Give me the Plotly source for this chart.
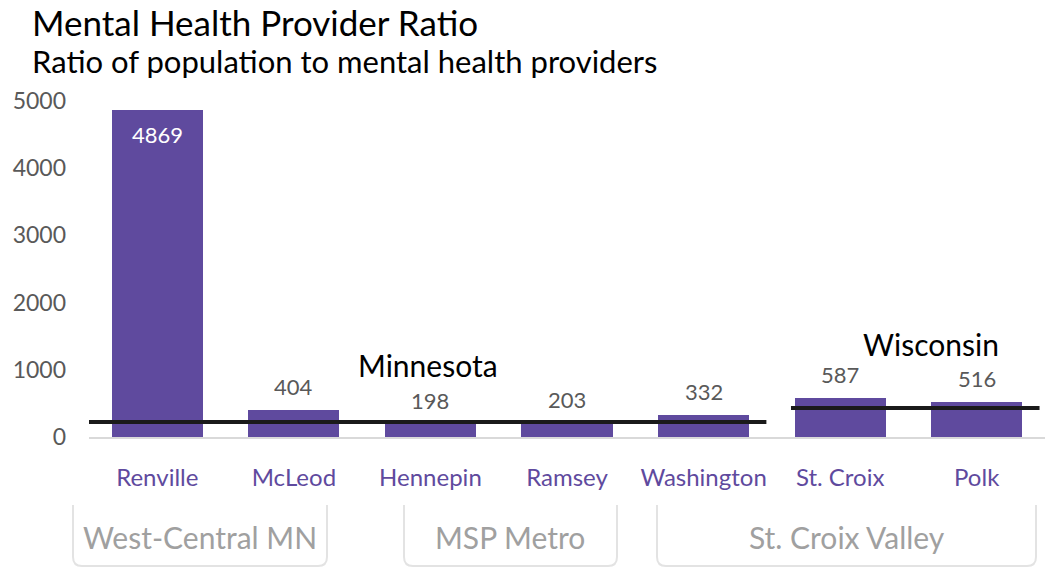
import plotly.graph_objects as go

# Data
counties = ["Renville", "McLeod", "Hennepin", "Ramsey", "Washington", "St. Croix", "Polk"]
ratios = [4869, 404, 198, 203, 332, 587, 516]
regions = ["West-Central MN", "MSP Metro", "St. Croix Valley"]
state_names = ["Minnesota", "Wisconsin"]
state_ratios = [223, 432]
y_ticks = [0, 1000, 2000, 3000, 4000, 5000]

PURPLE = "#5F4A9E"
GRAY_TXT = "#595959"

# Plot area geometry (pixels)
W, H = 1050, 569
L, R, T, B = 89, 5, 101, 132
PW, PH = W - L - R, H - T - B


def px_x(px):
    return (px - L) / PW


def px_y(py):
    return (H - B - py) / PH


fig = go.Figure()
xs = list(range(len(counties)))
fig.add_trace(go.Bar(
    x=xs, y=ratios, width=0.667,
    marker=dict(color=PURPLE, line=dict(width=0)),
    hoverinfo="skip", showlegend=False,
))

annotations = []
# value labels
for i, v in enumerate(ratios):
    if v > 3000:
        annotations.append(dict(x=i, y=v, xref="x", yref="y", text=str(v),
                                showarrow=False, yanchor="top", yshift=-10, borderpad=0,
                                font=dict(size=22, color="white")))
    else:
        annotations.append(dict(x=i, y=v, xref="x", yref="y", text=str(v),
                                showarrow=False, yanchor="bottom", yshift=9, borderpad=0,
                                font=dict(size=22, color=GRAY_TXT)))

shapes = []
# state benchmark lines: (x start, x end) in category units
state_spans = [(-0.58, 4.46), (4.64, 6.46)]
state_label_pos = [(428, 365), (931, 344)]
for name, val, (x0, x1), (lx, ly) in zip(state_names, state_ratios, state_spans, state_label_pos):
    shapes.append(dict(type="line", xref="x", yref="y", x0=x0, x1=x1, y0=val, y1=val,
                       line=dict(color="#1a1a1a", width=4), layer="above"))
    annotations.append(dict(x=px_x(lx), y=px_y(ly), xref="paper", yref="paper", text=name,
                            showarrow=False, xanchor="center", yanchor="middle", borderpad=0,
                            font=dict(size=30, color="black")))

# region boxes below the axis (pixel edges)
box_edges = [(73, 327), (404, 617), (657, 1036)]
top_py, bot_py, rad = 505, 566, 9
for name, (bx0, bx1) in zip(regions, box_edges):
    x0, x1 = px_x(bx0), px_x(bx1)
    yt, yb = px_y(top_py), px_y(bot_py)
    rx, ry = rad / PW, rad / PH
    path = (f"M {x0},{yt} L {x0},{yb + ry} Q {x0},{yb} {x0 + rx},{yb} "
            f"L {x1 - rx},{yb} Q {x1},{yb} {x1},{yb + ry} L {x1},{yt}")
    shapes.append(dict(type="path", xref="paper", yref="paper", path=path,
                       line=dict(color="#E3E3E3", width=2)))
    annotations.append(dict(x=(x0 + x1) / 2, y=px_y(537), xref="paper", yref="paper",
                            text=name, showarrow=False, xanchor="center", yanchor="middle",
                            font=dict(size=30, color="#A0A0A0")))

# titles
annotations.append(dict(x=px_x(31), y=px_y(0), xref="paper", yref="paper",
                        text="Mental Health Provider Ratio", showarrow=False,
                        xanchor="left", yanchor="top", borderpad=0,
                        font=dict(size=35, color="black")))
annotations.append(dict(x=px_x(31), y=px_y(61), xref="paper", yref="paper",
                        text="Ratio of population to mental health providers", showarrow=False,
                        xanchor="left", yanchor="middle", borderpad=0,
                        font=dict(size=31, color="black")))

fig.update_layout(
    width=W, height=H,
    margin=dict(l=L, r=R, t=T, b=B, pad=0),
    paper_bgcolor="white", plot_bgcolor="white",
    font=dict(family="Lato, Open Sans, sans-serif"),
    bargap=0,
    shapes=shapes,
    annotations=annotations,
    xaxis=dict(
        range=[-0.5, len(counties) - 0.5],
        tickmode="array", tickvals=xs, ticktext=counties,
        tickfont=dict(size=24, color=PURPLE),
        showgrid=False, zeroline=False,
        showline=True, linecolor="#D9D9D9", linewidth=2,
        ticks="", ticklabelstandoff=18,
    ),
    yaxis=dict(
        range=[0, 5000],
        tickmode="array", tickvals=y_ticks, ticktext=[str(t) for t in y_ticks],
        tickfont=dict(size=23, color=GRAY_TXT),
        showgrid=False, zeroline=False, showline=False,
        ticks="", ticklabelstandoff=22,
    ),
)

fig.write_html("out.html")
